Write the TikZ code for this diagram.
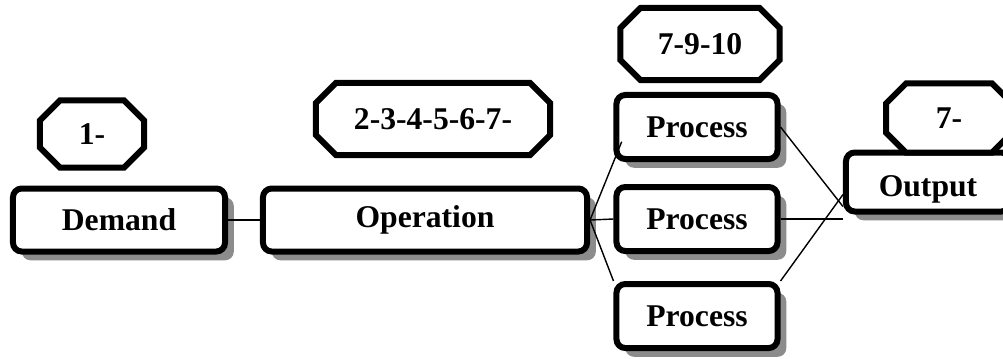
\documentclass[tikz,border=0pt]{standalone}
\usepackage{fontspec}
\setmainfont{Liberation Serif}
\usetikzlibrary{calc}
\usetikzlibrary{shadows}
\usetikzlibrary{shapes.misc}

\begin{document}
\begin{tikzpicture} [x=0.025cm, y=-0.025cm,
 box/.style={draw, line width=1.5mm, rounded corners=2.2mm, fill=white, inner sep=0,
   font=\fontsize{22.5}{26}\selectfont\bfseries,
   drop shadow={shadow xshift=2.2mm, shadow yshift=-2.2mm, fill=gray!90, opacity=1}},
 tag/.style={draw, line width=1.5mm, chamfered rectangle, chamfered rectangle xsep=2.5mm,
   chamfered rectangle ysep=2.5mm, fill=white, inner sep=0,
   font=\fontsize{22.5}{26}\selectfont\bfseries},
 link/.style={line width=1pt}]
\useasboundingbox (0,0) rectangle (1003,358);
% boxes
\node[box, minimum width=5.3cm, minimum height=1.575cm] (dem) at (119,220) {Demand};
\node[box, minimum width=8.1cm, minimum height=1.575cm] (op) at (425,220) {Operation};
\node[box, minimum width=4.025cm, minimum height=1.6cm] (ptop) at (697,127) {Process};
\node[box, minimum width=4.025cm, minimum height=1.6cm] (pmid) at (697,219) {Process};
\node[box, minimum width=4.025cm, minimum height=1.6cm] (pbot) at (697,316) {Process};
\node[box, minimum width=4.1cm, minimum height=1.475cm, text height=0.9cm] (out) at (928,182) {Output};
% step numbers
\node[tag, minimum width=2.6cm, minimum height=1.675cm] (n1) at (92,134) {1-};
\node[tag, minimum width=5.85cm, minimum height=1.8cm] (n2) at (433,119) {2-3-4-5-6-7-};
\node[tag, minimum width=3.975cm, minimum height=1.8cm] (n3) at (700,44) {7-9-10};
\node[tag, minimum width=3.15cm, minimum height=1.725cm] (n4) at (949,118) {7-};
% links
\coordinate (jt) at ($(out.south west)+(0,-8)$);
\coordinate (jb) at ($(out.south west)+(0,-20)$);
\draw[link] (dem) -- (op);
\draw[link] (op.east) -- (pmid.west);
\draw[link] (op.east) -- ($(op.east)!1.35!(ptop.south west)$);
\draw[link] (op.east) -- (pbot.north west);
\draw[link] (ptop.east) -- (jt);
\draw[link] (pmid.east) -- (pmid.east -| out.west);
\draw[link] (pbot.north east) -- (jb);
\end{tikzpicture}
\end{document}
